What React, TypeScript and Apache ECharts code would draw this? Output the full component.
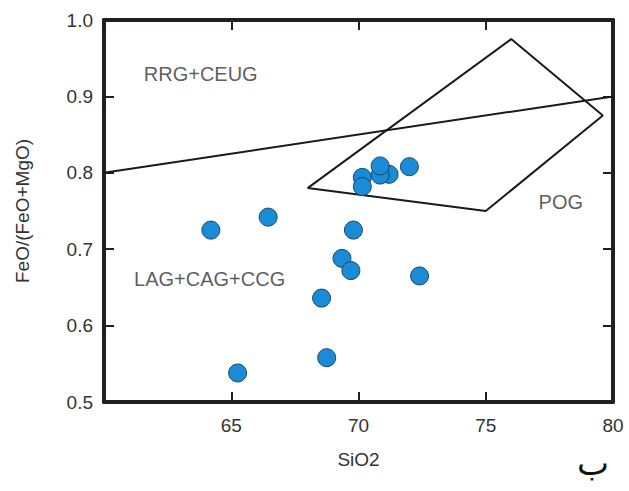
import React, { useEffect, useRef } from "react";
import * as echarts from "echarts";

const xTicks = [65, 70, 75, 80];
const yTicks = [0.5, 0.6, 0.7, 0.8, 0.9, 1.0];

const sampleSiO2 = [64.2, 66.45, 69.8, 69.35, 69.7, 68.55, 68.75, 65.25, 72.4, 70.15, 70.15, 71.2, 70.85, 70.85, 72.0];
const sampleRatio = [0.725, 0.742, 0.725, 0.688, 0.672, 0.636, 0.558, 0.538, 0.665, 0.794, 0.782, 0.798, 0.797, 0.809, 0.808];

const boundaryX = [60, 80];
const boundaryY = [0.8, 0.9];

const pogX = [68, 76, 79.6, 75, 68];
const pogY = [0.78, 0.975, 0.875, 0.75, 0.78];

const fieldNames = ["RRG+CEUG", "POG", "LAG+CAG+CCG"];
const fieldX = [63.8, 77.95, 64.15];
const fieldY = [0.929, 0.762, 0.661];

const FONT = "Liberation Sans, Arial, sans-serif";

export default function App() {
  const ref = useRef<HTMLDivElement>(null);
  useEffect(() => {
    document.body.style.margin = "0";
    if (!ref.current) return;
    const chart = echarts.init(ref.current, undefined, { renderer: "svg" });
    const axisLine = { show: true, lineStyle: { color: "#231f20", width: 4 } };
    const tick = { show: true, inside: true, length: 10, lineStyle: { color: "#231f20", width: 2 } };
    chart.setOption({
      animation: false,
      backgroundColor: "#ffffff",
      grid: { left: 104, right: 16, top: 20, bottom: 89 },
      xAxis: [
        {
          type: "value",
          min: 60,
          max: 80,
          interval: 5,
          position: "bottom",
          name: "SiO2",
          nameLocation: "middle",
          nameGap: 48,
          nameTextStyle: { fontFamily: FONT, fontSize: 19, color: "#333" },
          axisLine,
          axisTick: tick,
          axisLabel: {
            margin: 14,
            fontFamily: FONT,
            fontSize: 19,
            color: "#333",
            showMinLabel: false,
            formatter: (v: number) => (xTicks.includes(v) ? String(v) : ""),
          },
          splitLine: { show: false },
        },
        {
          type: "value",
          min: 60,
          max: 80,
          interval: 5,
          position: "top",
          axisLine,
          axisTick: tick,
          axisLabel: { show: false },
          splitLine: { show: false },
        },
      ],
      yAxis: [
        {
          type: "value",
          min: 0.5,
          max: 1.0,
          interval: 0.1,
          position: "left",
          name: "FeO/(FeO+MgO)",
          nameLocation: "middle",
          nameGap: 72,
          nameTextStyle: { fontFamily: FONT, fontSize: 19, color: "#333" },
          axisLine,
          axisTick: tick,
          axisLabel: {
            margin: 11,
            fontFamily: FONT,
            fontSize: 19,
            color: "#333",
            formatter: (v: number) => {
              const t = yTicks.find((k) => Math.abs(k - v) < 1e-6);
              return t !== undefined ? t.toFixed(1) : "";
            },
          },
          splitLine: { show: false },
        },
        {
          type: "value",
          min: 0.5,
          max: 1.0,
          interval: 0.1,
          position: "right",
          axisLine,
          axisTick: tick,
          axisLabel: { show: false },
          splitLine: { show: false },
        },
      ],
      series: [
        {
          type: "line",
          data: boundaryX.map((x, i) => [x, boundaryY[i]]),
          symbol: "none",
          lineStyle: { color: "#1a1a1a", width: 2 },
          silent: true,
          z: 2,
        },
        {
          type: "line",
          data: pogX.map((x, i) => [x, pogY[i]]),
          symbol: "none",
          lineStyle: { color: "#1a1a1a", width: 2 },
          silent: true,
          z: 2,
        },
        {
          type: "scatter",
          data: fieldNames.map((n, i) => ({ name: n, value: [fieldX[i], fieldY[i]] })),
          symbolSize: 0,
          label: {
            show: true,
            position: "inside",
            formatter: (p: any) => p.name,
            fontFamily: FONT,
            fontSize: 20,
            color: "#333",
          },
          silent: true,
          z: 3,
        },
        {
          type: "scatter",
          data: sampleSiO2.map((x, i) => [x, sampleRatio[i]]),
          symbol: "circle",
          symbolSize: 18,
          itemStyle: { color: "#1a8bd6", borderColor: "#1d4766", borderWidth: 1, opacity: 1 },
          z: 4,
        },
      ],
      graphic: [
        {
          type: "text",
          left: 577,
          top: 446,
          style: { text: "ب", fontFamily: "DejaVu Sans, Noto Sans, sans-serif", fontSize: 34, fill: "#111" },
        },
      ],
    });
    return () => chart.dispose();
  }, []);
  return <div ref={ref} style={{ width: 629, height: 491 }} />;
}
